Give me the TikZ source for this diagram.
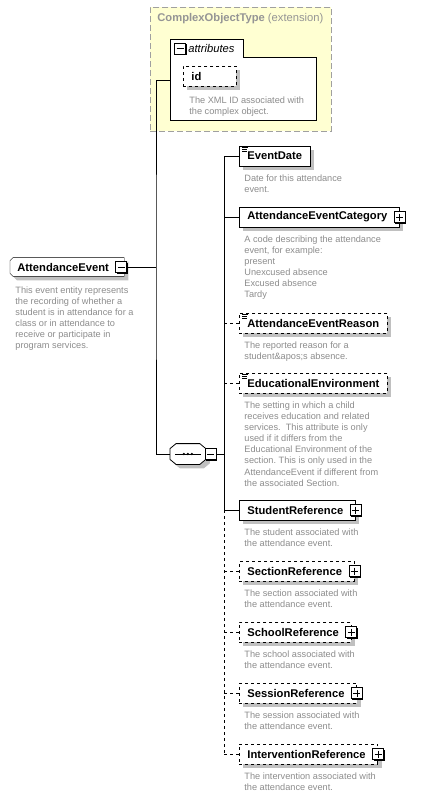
\documentclass[tikz,border=0pt]{standalone}
\usepackage{fontspec}
\setmainfont{Liberation Sans}
\usepackage{xcolor}
\usetikzlibrary{shadows}
\usetikzlibrary{positioning}
\usetikzlibrary{backgrounds}

\definecolor{descgrey}{HTML}{8C8C8C}
\definecolor{titlegrey}{HTML}{959595}
\definecolor{shadegrey}{HTML}{C0C0C0}
\definecolor{extyellow}{HTML}{FFFFD2}
\definecolor{extborder}{HTML}{A0A0A0}

\newcommand\typeicon[1]{%
  \foreach \k/\w in {2pt/6pt,4pt/5pt,6pt/5pt}
    \draw[solid,line width=0.6pt] ([shift={(3pt,-\k)}]#1.north west) -- ++(\w,0pt);}

\frenchspacing
\begin{document}
\begin{tikzpicture}[x=1pt,y=-1pt,line width=0.8pt,
    shade/.style={general shadow={fill=shadegrey,shadow xshift=4pt,shadow yshift=-4pt}},
    elemtext/.style={anchor=west,minimum height=20pt,inner xsep=8pt,inner ysep=0pt,
      font=\bfseries\fontsize{11.2}{13}\selectfont},
    elem/.style={elemtext,draw,fill=white,shade},
    optelem/.style={elem,dashed},
    haskids/.style={execute at end node={\hspace{4pt}}},
    desc/.style={anchor=north west,inner sep=0pt,align=left,text=descgrey,
      font=\fontsize{9.2}{11.1}\selectfont},
    minusbox/.style={draw,solid,fill=white,minimum size=11pt,inner sep=0pt,
      general shadow={fill=black,shadow xshift=1pt,shadow yshift=-1pt},
      path picture={\draw ([xshift=2pt]path picture bounding box.west) -- ([xshift=-2pt]path picture bounding box.east);}},
    plusbox/.style={draw,solid,fill=white,minimum size=11pt,inner sep=0pt,
      general shadow={fill=black,shadow xshift=1pt,shadow yshift=-1pt},
      path picture={\draw ([xshift=2pt]path picture bounding box.west) -- ([xshift=-2pt]path picture bounding box.east);
        \draw ([yshift=-2pt]path picture bounding box.north) -- ([yshift=2pt]path picture bounding box.south);}}]
  \useasboundingbox (0,0) rectangle (431,798);

  % extension base type
  \node[draw=extborder,dash pattern=on 6pt off 3pt,fill=extyellow,anchor=north west,inner sep=0pt,
    minimum width=181pt,minimum height=124pt] (ext) at (150,7) {};
  \node[anchor=west,inner sep=0pt,text=titlegrey,font=\fontsize{11.2}{13}\selectfont] (extname) at (157,19)
    {\textbf{ComplexObjectType} (extension)};
  \draw[fill=white] (170,120) -- (170,39) -- (243,39) -- (243,57) -- (316,57) -- (316,120) -- cycle;
  \node[minusbox] (attrm) at (180,48.5) {};
  \node[anchor=west,inner sep=0pt,font=\itshape\fontsize{11.2}{13}\selectfont] (attrname) at (188,48) {attributes};
  \node[optelem,text width=37pt,align=left] (id) at (183,76) {id};
  \node[desc,below right=10pt and 6pt of id.south west] (iddesc) {The XML ID associated with\\the complex object.};
  \coordinate (attrin) at (170,80);

  % root element
  \node[elemtext,inner xsep=7pt,minimum height=18pt,execute at end node={\hspace{8pt}}] (ae) at (10,267) {AttendanceEvent};
  \begin{scope}[on background layer]
    \draw[fill=white,shade] ([xshift=3pt]ae.north west) -- (ae.north east) -- (ae.south east)
      -- ([xshift=3pt]ae.south west) -- ([yshift=3pt]ae.south west) -- ([yshift=-3pt]ae.north west) -- cycle;
  \end{scope}
  \node[minusbox] (aem) at ([xshift=-3pt]ae.east) {};
  \node[desc,below right=10pt and 5pt of ae.south west] (aedesc)
    {This event entity represents\\the recording of whether a\\student is in attendance for a\\class or in attendance to\\receive or participate in\\program services.};
  \coordinate (trunk) at (156,267);

  % sequence
  \node[anchor=west,inner sep=0pt,minimum width=35pt,minimum height=20pt] (seq) at (170,454) {};
  \draw[fill=white,shade] ([xshift=6pt]seq.north west) -- ([xshift=-6pt]seq.north east) -- ([yshift=-5pt]seq.north east)
    -- ([yshift=5pt]seq.south east) -- ([xshift=-6pt]seq.south east) -- ([xshift=6pt]seq.south west)
    -- ([yshift=5pt]seq.south west) -- ([yshift=-5pt]seq.north west) -- cycle;
  \draw ([xshift=5pt]seq.west) -- ([xshift=-5pt]seq.east);
  \foreach \d in {-4pt,0pt,4pt}
    \fill ([xshift=\d]seq.center) circle (1.3pt);
  \node[minusbox,right=-1pt of seq] (seqm) {};
  \coordinate (bus) at (224,454);

  % children
  \node[elem] (evd) at (239,156) {EventDate};
  \typeicon{evd}
  \node[desc,below right=8pt and 5pt of evd.south west] (evddesc) {Date for this attendance\\event.};

  \node[elem,haskids] (aec) at (239,217) {AttendanceEventCategory};
  \node[plusbox] (aecp) at (aec.east) {};
  \node[desc,below right=8pt and 5pt of aec.south west] (aecdesc)
    {A code describing the attendance\\event, for example:\\present\\Unexcused absence\\Excused absence\\Tardy};

  \node[optelem] (aer) at (239,323) {AttendanceEventReason};
  \typeicon{aer}
  \node[desc,below right=8pt and 5pt of aer.south west] (aerdesc) {The reported reason for a\\student\&apos;s absence.};

  \node[optelem] (envt) at (239,383) {EducationalEnvironment};
  \typeicon{envt}
  \node[desc,below right=8pt and 5pt of envt.south west] (envtdesc)
    {The setting in which a child\\receives education and related\\services.\ \ This attribute is only\\used if it differs from the\\Educational Environment of the\\section. This is only used in the\\AttendanceEvent if different from\\the associated Section.};

  \node[elem,haskids] (stu) at (239,510) {StudentReference};
  \node[plusbox] (stup) at (stu.east) {};
  \node[desc,below right=8pt and 5pt of stu.south west] (studesc) {The student associated with\\the attendance event.};

  \node[optelem,haskids] (sec) at (239,571) {SectionReference};
  \node[plusbox] (secp) at (sec.east) {};
  \node[desc,below right=8pt and 5pt of sec.south west] (secdesc) {The section associated with\\the attendance event.};

  \node[optelem,haskids] (sch) at (239,632) {SchoolReference};
  \node[plusbox] (schp) at (sch.east) {};
  \node[desc,below right=8pt and 5pt of sch.south west] (schdesc) {The school associated with\\the attendance event.};

  \node[optelem,haskids] (ses) at (239,693) {SessionReference};
  \node[plusbox] (sesp) at (ses.east) {};
  \node[desc,below right=8pt and 5pt of ses.south west] (sesdesc) {The session associated with\\the attendance event.};

  \node[optelem,haskids] (intv) at (239,754) {InterventionReference};
  \node[plusbox] (intvp) at (intv.east) {};
  \node[desc,below right=8pt and 5pt of intv.south west] (intvdesc) {The intervention associated with\\the attendance event.};

  % connectors
  \draw (aem.east) -- (trunk);
  \draw (attrin) -| (trunk) |- (seq.west);
  \draw (seqm.east) -- (bus);
  \draw (bus |- evd.west) -- (bus |- stu.west);
  \draw[dashed] (bus |- stu.west) -- (bus |- intv.west);
  \foreach \n in {evd,aec,stu}
    \draw (bus |- \n.west) -- (\n.west);
  \foreach \n in {aer,envt,sec,sch,ses,intv}
    \draw[dashed] (bus |- \n.west) -- (\n.west);
\end{tikzpicture}
\end{document}
